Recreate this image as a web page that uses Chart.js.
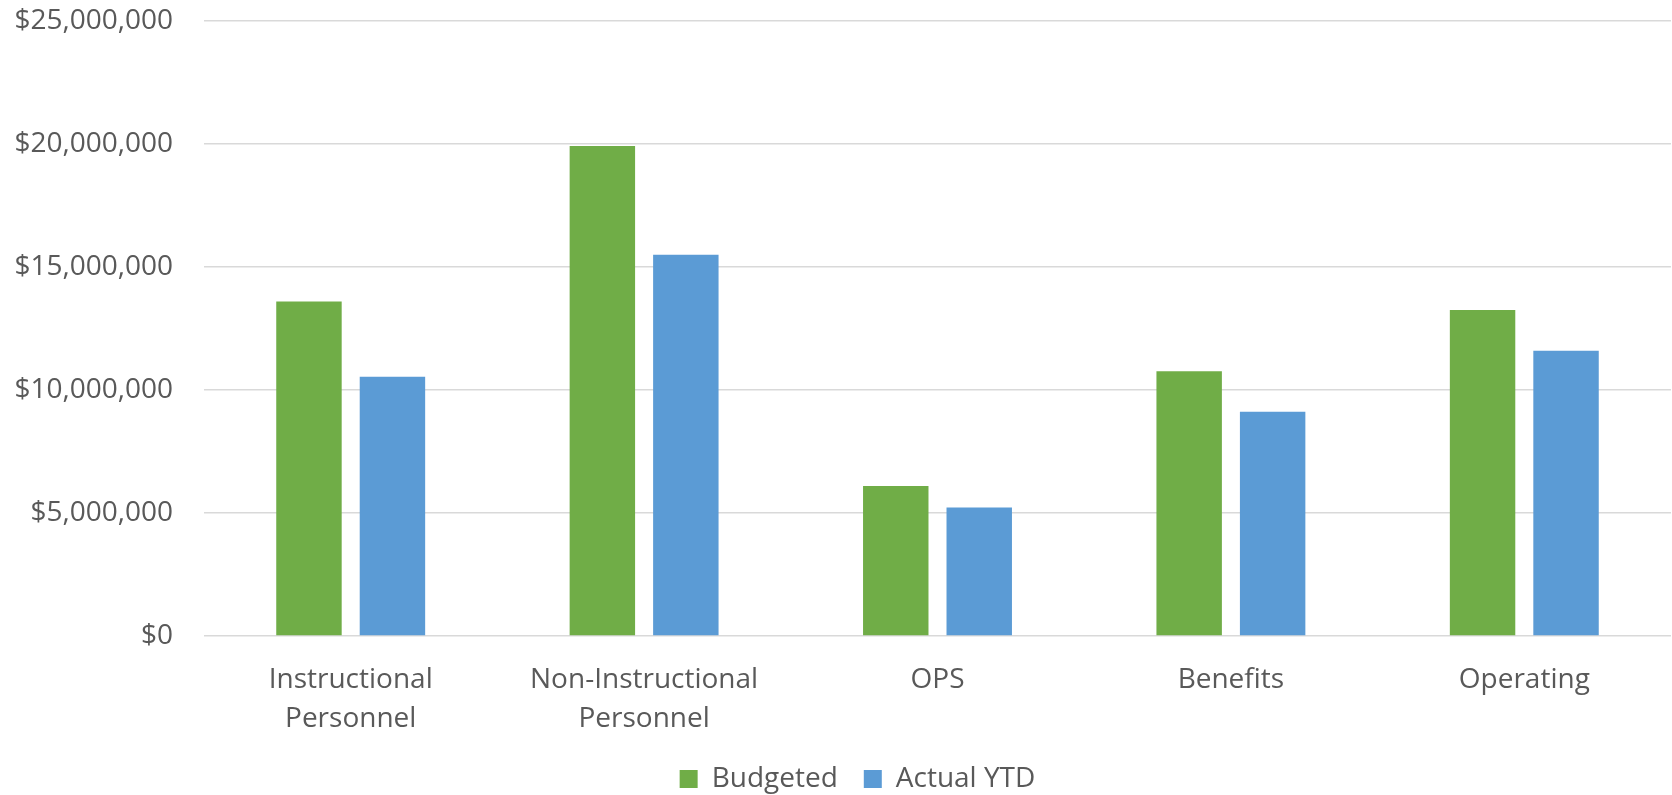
<!DOCTYPE html>
<html>
<head>
<meta charset="utf-8">
<script src="https://cdn.jsdelivr.net/npm/chart.js@4/dist/chart.umd.min.js"></script>
<style>
  html, body { margin: 0; padding: 0; background: #fff; }
  #wrap { width: 1672px; height: 795px; }
</style>
</head>
<body>
<div id="wrap"><canvas id="budgetChart"></canvas></div>
<script>
const categories = [
    ['Instructional', 'Personnel'],
    ['Non-Instructional', 'Personnel'],
    'OPS',
    'Benefits',
    'Operating'
];
const budgeted = [13600000, 19920000, 6100000, 10760000, 13250000];
const actualYtd = [10540000, 15500000, 5220000, 9120000, 11600000];
const yTicks = [0, 5000000, 10000000, 15000000, 20000000, 25000000];

const textColor = '#595959';
const fontFamily = '"Open Sans", "Liberation Sans", sans-serif';

// legend sits a little right of the canvas centre in the original
const legendShift = {
    id: 'legendShift',
    afterLayout(chart) {
        chart.legend.left += 44;
    }
};

const ctx = document.getElementById('budgetChart').getContext('2d');
const budgetChart = new Chart(ctx, {
    type: 'bar',
    data: {
        labels: categories,
        datasets: [{
            label: 'Budgeted',
            data: budgeted,
            backgroundColor: '#70ad47',
            categoryPercentage: 0.569,
            barPercentage: 0.784
        }, {
            label: 'Actual YTD',
            data: actualYtd,
            backgroundColor: '#5b9bd5',
            categoryPercentage: 0.569,
            barPercentage: 0.784
        }]
    },
    options: {
        responsive: true,
        maintainAspectRatio: false,
        animation: false,
        layout: {
            padding: { top: 21, right: 1, left: 0, bottom: -8 }
        },
        plugins: {
            tooltip: { enabled: false },
            legend: {
                display: true,
                position: 'bottom',
                labels: {
                    boxWidth: 18,
                    boxHeight: 18,
                    padding: 26,
                    color: textColor,
                    font: { family: fontFamily, size: 28 }
                }
            }
        },
        scales: {
            x: {
                afterFit(scale) {
                    scale.height = 103;
                },
                grid: { display: false, drawTicks: false },
                border: { display: false },
                ticks: {
                    color: textColor,
                    padding: 24,
                    maxRotation: 0,
                    autoSkip: false,
                    font: { family: fontFamily, size: 28, lineHeight: 1.41 }
                }
            },
            y: {
                min: 0,
                max: 25000000,
                afterFit(scale) {
                    scale.width = 204;
                    scale.paddingTop = 0;
                    scale.paddingBottom = 0;
                },
                afterBuildTicks(scale) {
                    scale.ticks = yTicks.map(v => ({ value: v }));
                },
                grid: {
                    color: '#d9d9d9',
                    lineWidth: 1.5,
                    drawTicks: false
                },
                border: { display: false },
                ticks: {
                    color: textColor,
                    padding: 31,
                    font: { family: fontFamily, size: 28 },
                    callback: (value) => '$' + value.toLocaleString('en-US')
                }
            }
        }
    },
    plugins: [legendShift]
});
</script>
</body>
</html>
